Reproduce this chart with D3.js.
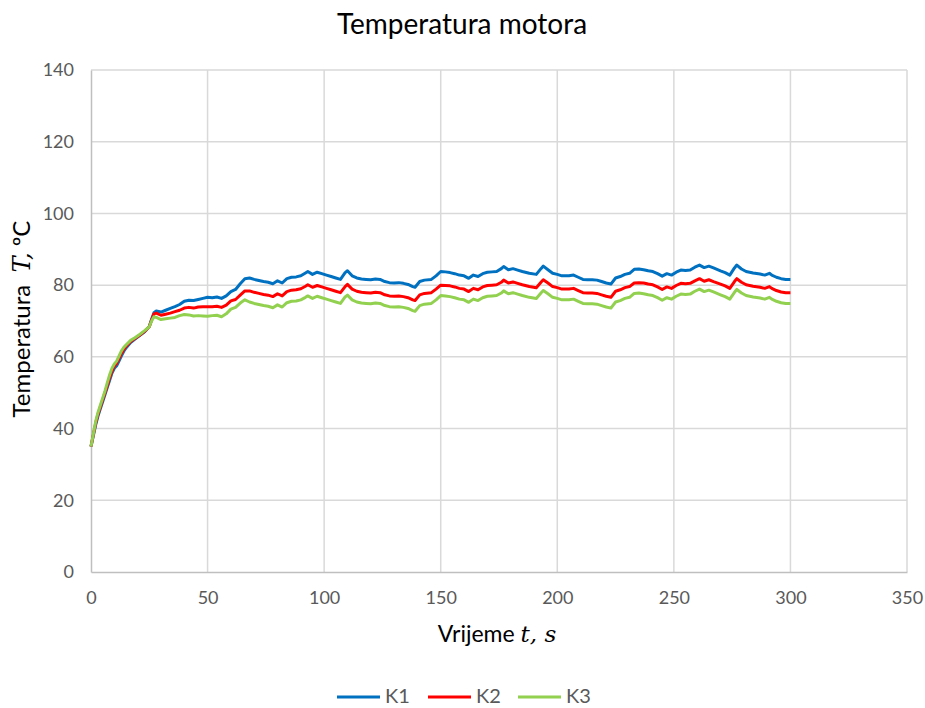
<!DOCTYPE html>
<html><head><meta charset="utf-8">
<script src="https://cdn.jsdelivr.net/npm/d3@7"></script>
<style>body{margin:0;background:#fff}svg{display:block}</style>
</head><body>
<script>
const timeS = [0,1,2,3,4,5,6,7,8,9,10,11,12,13,14,15,17,19,21,23,25,26,27,28,30,32,34,36,38,40,42,44,46,48,50,52,54,56,58,60,62,64,66,
68,70,72,74,76,78,80,82,84,86,88,90,92,93,
95,97,99,101,103,105,107,109,110,
112,114,116,118,120,122,124,126,128,130,132,134,136,138,139,
141,143,146,148,150,152,154,156,158,160,162,164,166,168,170,172,174,176,177,
179,181,183,185,188,191,193,194,196,198,200,
202,205,207,209,211,213,215,217,219,221,223,225,227,229,231,233,235,237,239,241,243,245,247,249,251,253,255,257,259,
261,263,265,267,270,272,274,276,277,279,281,284,287,289,291,292,294,296,298,300];
const K1 = [35,38,41,43.5,45.5,47.5,49.5,51.5,53.5,55.5,56.8,57.5,58.8,60.2,61.5,62.5,64,65,66,67,68.5,70.5,72.3,72.8,72.5,73.0,73.5,74.0,74.6,75.5,75.8,75.7,76.0,76.3,76.6,76.5,76.7,76.3,77.0,78.2,78.8,80.4,81.8,
82.0,81.6,81.3,81.0,80.8,80.4,81.2,80.6,81.8,82.2,82.3,82.6,83.4,83.8,
83.0,83.6,83.2,82.8,82.4,82.0,81.6,83.5,84.0,
82.6,82.0,81.7,81.6,81.5,81.7,81.6,81.0,80.7,80.6,80.7,80.5,80.2,79.6,79.4,
81.0,81.4,81.6,82.6,83.8,83.7,83.5,83.2,82.8,82.6,81.9,82.8,82.4,83.2,83.6,83.7,83.8,84.6,85.2,
84.3,84.6,84.2,83.8,83.3,83.0,84.6,85.3,84.3,83.3,83.0,
82.6,82.6,82.8,82.2,81.6,81.5,81.5,81.4,81.0,80.6,80.3,82.0,82.4,83.0,83.3,84.4,84.5,84.3,84.0,83.8,83.2,82.5,83.2,82.8,83.6,84.2,84.1,84.2,85.0,
85.6,84.9,85.3,84.8,84.0,83.5,82.8,84.8,85.6,84.5,83.8,83.4,83.1,82.8,83.3,82.8,82.2,81.8,81.6,81.6];
const K2 = [35,38.3,41.5,44,46,48,50,52,54.2,56.0,57.4,58.2,59.5,60.9,62.0,62.9,64.3,65.2,66.1,67.1,68.4,70.3,72.0,72.2,71.6,71.9,72.2,72.6,73.0,73.6,73.8,73.6,73.9,74.0,74.0,74.0,74.1,73.8,74.4,75.6,76.0,77.2,78.4,
78.4,78.0,77.7,77.4,77.2,76.8,77.6,77.0,78.2,78.6,78.7,79.0,79.7,80.1,
79.4,79.9,79.5,79.1,78.7,78.3,77.9,79.6,80.2,
78.9,78.3,78.0,77.9,77.8,78.0,77.9,77.3,77.0,76.9,77.0,76.8,76.5,75.9,75.7,
77.3,77.7,77.9,78.9,80.0,79.9,79.8,79.5,79.1,78.9,78.2,79.1,78.7,79.5,79.9,80.0,80.1,80.8,81.4,
80.6,80.9,80.5,80.1,79.6,79.3,80.8,81.5,80.6,79.6,79.3,
78.9,78.9,79.1,78.5,77.9,77.8,77.8,77.7,77.3,76.9,76.6,78.3,78.7,79.3,79.6,80.6,80.7,80.6,80.3,80.1,79.5,78.8,79.5,79.1,79.9,80.5,80.4,80.5,81.2,
81.8,81.1,81.5,81.0,80.3,79.8,79.1,81.0,81.8,80.8,80.1,79.7,79.4,79.1,79.6,79.1,78.5,78.1,77.9,77.9];
const K3 = [35,38.5,42,44.5,46.5,48.5,50.5,52.8,55.0,56.8,58.0,58.8,60.2,61.6,62.6,63.3,64.6,65.4,66.3,67.3,68.4,70.0,71.2,71.0,70.4,70.6,70.8,71.0,71.5,71.8,71.7,71.4,71.5,71.4,71.3,71.5,71.6,71.2,72.0,73.3,73.8,75.0,75.9,
75.3,74.9,74.6,74.3,74.1,73.7,74.5,73.9,75.1,75.5,75.6,75.9,76.6,77.0,
76.3,76.9,76.5,76.1,75.7,75.3,74.9,76.7,77.2,
75.9,75.3,75.0,74.9,74.8,75.0,74.9,74.3,74.0,73.9,74.0,73.8,73.5,72.9,72.7,
74.3,74.7,74.9,75.9,77.1,77.0,76.8,76.5,76.1,75.9,75.2,76.1,75.7,76.5,76.9,77.0,77.1,77.8,78.4,
77.6,77.9,77.5,77.1,76.6,76.3,77.8,78.5,77.6,76.6,76.3,
75.9,75.9,76.1,75.5,74.9,74.8,74.8,74.7,74.3,73.9,73.6,75.3,75.7,76.3,76.6,77.7,77.8,77.6,77.3,77.1,76.5,75.8,76.5,76.1,76.9,77.5,77.4,77.5,78.3,
78.9,78.2,78.6,78.1,77.3,76.8,76.1,78.0,78.8,77.8,77.1,76.7,76.4,76.1,76.6,76.1,75.5,75.1,74.9,74.9];
const seriesNames = ["K1","K2","K3"];
const seriesColors = ["#0070C0","#FF0000","#92D050"];
const xTicks = [0,50,100,150,200,250,300,350];
const yTicks = [0,20,40,60,80,100,120,140];

const W = 925, H = 708;
const m = {left:91, right:18, top:70, bottom:136};
const svg = d3.select("body").append("svg").attr("width",W).attr("height",H);
const x = d3.scaleLinear().domain([0,350]).range([m.left, W-m.right]);
const y = d3.scaleLinear().domain([0,140]).range([H-m.bottom, m.top]);
const font = "Lato, 'Open Sans', 'Liberation Sans', sans-serif";

// grid
svg.append("g").selectAll("line").data(yTicks.slice(1)).join("line")
  .attr("x1",x(0)).attr("x2",x(350)).attr("y1",d=>y(d)).attr("y2",d=>y(d))
  .attr("stroke","#d9d9d9").attr("stroke-width",1.5);
svg.append("g").selectAll("line").data(xTicks.slice(1)).join("line")
  .attr("y1",y(0)).attr("y2",y(140)).attr("x1",d=>x(d)).attr("x2",d=>x(d))
  .attr("stroke","#d9d9d9").attr("stroke-width",1.5);

// axes
const xAxis = svg.append("g").attr("transform",`translate(0,${y(0)})`)
  .call(d3.axisBottom(x).tickValues(xTicks).tickSize(0).tickPadding(19));
const yAxis = svg.append("g").attr("transform",`translate(${x(0)},0)`)
  .call(d3.axisLeft(y).tickValues(yTicks).tickSize(0).tickPadding(17));
[xAxis,yAxis].forEach(a=>{
  a.select(".domain").attr("stroke","#bfbfbf").attr("stroke-width",1.5);
  a.selectAll("text").attr("fill","#595959").style("font-family",font).style("font-size","18px");
});

// lines
const series = [K1,K2,K3];
const line = d3.line().x((d,i)=>x(timeS[i])).y(d=>y(d)).curve(d3.curveLinear);
series.forEach((s,k)=>{
  svg.append("path").datum(s).attr("d",line).attr("fill","none")
    .attr("stroke",seriesColors[k]).attr("stroke-width",3).attr("stroke-linejoin","round");
});

// title
svg.append("text").attr("x",462).attr("y",34).attr("text-anchor","middle")
  .style("font-family",font).style("font-size","28px").attr("fill","#000").text("Temperatura motora");

// x title
const xt = svg.append("text").attr("x",497).attr("y",642).attr("text-anchor","middle")
  .style("font-family",font).style("font-size","23px").attr("fill","#000");
xt.append("tspan").text("Vrijeme ");
xt.append("tspan").style("font-style","italic").style("font-family","'DejaVu Serif', serif").text("t, s");

// y title
const yt = svg.append("text").attr("transform",`translate(30,${319}) rotate(-90)`).attr("text-anchor","middle")
  .style("font-family",font).style("font-size","24px").attr("fill","#000");
yt.append("tspan").text("Temperatura\u00a0\u00a0");
yt.append("tspan").style("font-style","italic").style("font-family","'DejaVu Serif', serif").text("T,");
yt.append("tspan").text(" ºC");

// legend
const legX = [337,428,518];
seriesNames.forEach((n,k)=>{
  svg.append("line").attr("x1",legX[k]).attr("x2",legX[k]+43).attr("y1",697).attr("y2",697)
    .attr("stroke",seriesColors[k]).attr("stroke-width",3);
  svg.append("text").attr("x",legX[k]+48).attr("y",703)
    .style("font-family",font).style("font-size","20px").attr("fill","#595959").text(n);
});
</script>
</body></html>
